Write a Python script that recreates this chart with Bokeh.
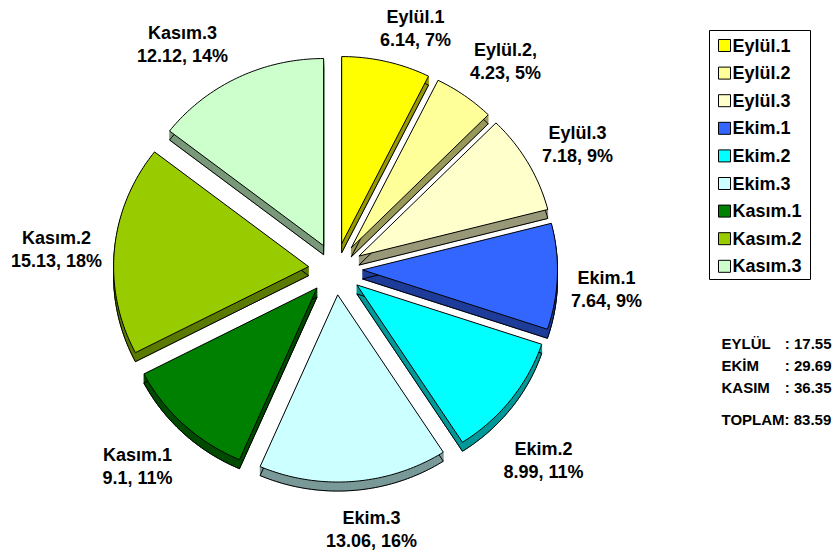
import numpy as np
from bokeh.plotting import figure
from bokeh.models import ColumnDataSource, Range1d
from bokeh.core.properties import value
from bokeh.embed import file_html
from bokeh.resources import INLINE

# ---------------- data ----------------
categories = ["Eylül.1", "Eylül.2", "Eylül.3", "Ekim.1", "Ekim.2", "Ekim.3",
              "Kasım.1", "Kasım.2", "Kasım.3"]
label_titles = ["Eylül.1", "Eylül.2,", "Eylül.3", "Ekim.1", "Ekim.2", "Ekim.3",
                "Kasım.1", "Kasım.2", "Kasım.3"]
values = [6.14, 4.23, 7.18, 7.64, 8.99, 13.06, 9.1, 15.13, 12.12]
colors = ["#FFFF00", "#FFFF99", "#FFFFCC", "#3366FF", "#00FFFF", "#CCFFFF",
          "#008000", "#99CC00", "#CCFFCC"]
month_names = ["EYLÜL", "EKİM", "KASIM"]
month_totals = [17.55, 29.69, 36.35]
grand_total = 83.59

# ---------------- layout (page pixels) ----------------
W, H = 835, 558
def Y(py):  # page pixel row -> data y
    return H - py

CX, CY = 335, Y(268.5)
R = 195          # radius of the pie (px)
EXPLODE = 27     # slice explosion (px)
KY = 0.96        # vertical squash of the tilted pie
DEPTH = 9        # 3D thickness (px)
FONT = value("Liberation Sans")
FS = "18px"
# annotation text anchors (page px): label block centres placed like Excel's outside-end labels
label_anchor = [(415, 28), (505, 61), (577, 143.5), (606, 288.5), (543, 459.5),
                (371, 528.5), (137, 466), (56, 248.5), (182, 43.5)]

def darken(c, f=0.6):
    r, g, b = int(c[1:3], 16), int(c[3:5], 16), int(c[5:7], 16)
    return "#%02x%02x%02x" % (int(r * f), int(g * f), int(b * f))

vals = np.array(values)
tot = vals.sum()
cum_after = np.cumsum(vals)
cum_before = cum_after - vals
start = np.pi / 2 - 2 * np.pi * cum_before / tot
end = np.pi / 2 - 2 * np.pi * cum_after / tot
mid = (start + end) / 2
pcts = [int(round(v / tot * 100)) for v in vals]

face_xs, face_ys = [], []
for a0, a1, am in zip(start, end, mid):
    ox = CX + EXPLODE * np.cos(am)
    oy = CY + EXPLODE * KY * np.sin(am)
    n = max(8, int(abs(a1 - a0) * 60))
    t = np.linspace(a0, a1, n)
    face_xs.append(np.concatenate([[ox], ox + R * np.cos(t)]))
    face_ys.append(np.concatenate([[oy], oy + R * KY * np.sin(t)]))

sides = [darken(c) for c in colors]

p = figure(width=W, height=H, x_range=Range1d(0, W), y_range=Range1d(0, H),
           output_backend="svg", toolbar_location=None, min_border=0)
p.axis.visible = False
p.grid.visible = False
p.outline_line_color = None
p.background_fill_color = "white"
p.border_fill_color = "white"

# 3D sides (extrusion downward)
for k in range(DEPTH, 0, -1):
    p.patches(xs=face_xs, ys=[y - k for y in face_ys], fill_color=sides,
              line_color=sides, line_width=1)
p.patches(xs=face_xs, ys=[y - DEPTH for y in face_ys], fill_alpha=0,
          line_color="black", line_width=1)
# top faces
p.patches(xs=face_xs, ys=face_ys, fill_color=colors, line_color="black", line_width=1)

# data labels
lab_src = ColumnDataSource(dict(
    x=[a[0] for a in label_anchor], y=[Y(a[1]) for a in label_anchor],
    t1=label_titles,
    t2=["%s, %d%%" % (("%g" % v), pc) for v, pc in zip(values, pcts)],
))
from bokeh.transform import dodge
p.text(x="x", y=dodge("y", 11.5), text="t1", source=lab_src, text_align="center",
       text_baseline="middle", text_font=FONT, text_font_size=FS,
       text_font_style="bold", text_color="black")
p.text(x="x", y=dodge("y", -11.5), text="t2", source=lab_src, text_align="center",
       text_baseline="middle", text_font=FONT, text_font_size=FS,
       text_font_style="bold", text_color="black")

# legend
LX0, LX1, LY0, LY1 = 709, 810, 30, 279
p.quad(left=LX0, right=LX1, top=Y(LY0), bottom=Y(LY1), fill_color="white",
       line_color="black", line_width=1)
leg_y = [Y(45 + 27.6 * i) for i in range(len(categories))]
p.rect(x=[724] * len(categories), y=leg_y, width=12, height=12, fill_color=colors,
       line_color="black", line_width=1)
p.text(x=[732] * len(categories), y=leg_y, text=categories, text_align="left",
       text_baseline="middle", text_font=FONT, text_font_size=FS,
       text_font_style="bold", text_color="black")

# monthly totals
sum_y = [Y(343 + 22 * i) for i in range(len(month_names))]
SFS = "15px"
p.text(x=[721] * 3, y=sum_y, text=month_names, text_align="left", text_baseline="middle",
       text_font=FONT, text_font_size=SFS, text_font_style="bold", text_color="black")
p.text(x=[831] * 3, y=sum_y, text=[": %.2f" % v for v in month_totals], text_align="right",
       text_baseline="middle", text_font=FONT, text_font_size=SFS,
       text_font_style="bold", text_color="black")
p.text(x=[721], y=[Y(419)], text=["TOPLAM: %.2f" % grand_total], text_align="left",
       text_baseline="middle", text_font=FONT, text_font_size=SFS,
       text_font_style="bold", text_color="black")

open("out.html", "w").write(file_html(p, INLINE))
